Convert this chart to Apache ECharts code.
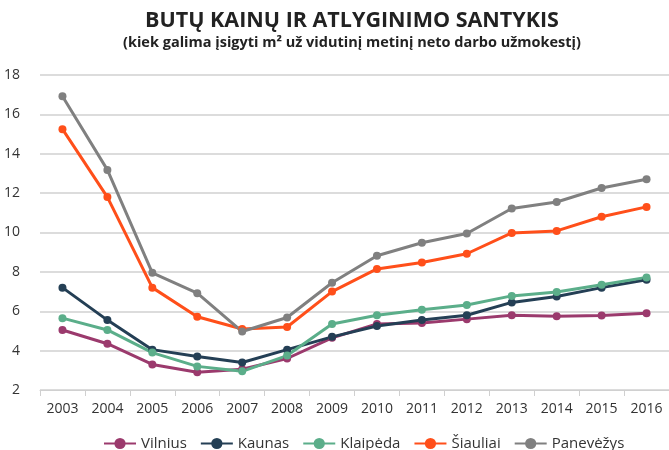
<!DOCTYPE html>
<html>
<head>
<meta charset="utf-8">
<script src="https://cdn.jsdelivr.net/npm/echarts@6/dist/echarts.min.js"></script>
<style>
    html, body { margin: 0; padding: 0; background: #fff; }
    #chart { width: 669px; height: 450px; }
</style>
</head>
<body>
<div id="chart"></div>
<script>
const years = ['2003', '2004', '2005', '2006', '2007', '2008', '2009', '2010', '2011', '2012', '2013', '2014', '2015', '2016'];
const vilnius = [5.05, 4.35, 3.3, 2.9, 3.05, 3.6, 4.65, 5.35, 5.4, 5.6, 5.8, 5.75, 5.78, 5.9];
const kaunas = [7.2, 5.55, 4.05, 3.7, 3.4, 4.05, 4.7, 5.25, 5.55, 5.8, 6.45, 6.75, 7.2, 7.6];
const klaipeda = [5.65, 5.05, 3.9, 3.2, 2.95, 3.75, 5.35, 5.8, 6.08, 6.32, 6.78, 6.98, 7.35, 7.72];
const siauliai = [15.25, 11.8, 7.2, 5.72, 5.1, 5.2, 7.0, 8.15, 8.48, 8.92, 9.98, 10.08, 10.8, 11.3];
const panevezys = [16.92, 13.18, 7.95, 6.92, 4.97, 5.68, 7.45, 8.82, 9.48, 9.95, 11.22, 11.55, 12.26, 12.7];
const yTicks = { min: 2, max: 18, interval: 2 };

const chart = echarts.init(document.getElementById('chart'));
const font = '"Open Sans", sans-serif';

function line(name, data, color) {
    return {
        name: name,
        type: 'line',
        data: data,
        symbol: 'circle',
        symbolSize: 8,
        color: color,
        lineStyle: { width: 3, color: color },
        itemStyle: { color: color },
    };
}

chart.setOption({
    animation: false,
    title: {
        text: 'BUTŲ KAINŲ IR ATLYGINIMO SANTYKIS',
        subtext: '(kiek galima įsigyti m² už vidutinį metinį neto darbo užmokestį)',
        left: 347,
        textAlign: 'center',
        top: 5,
        itemGap: 3,
        textStyle: { fontFamily: font, fontWeight: 'bold', fontSize: 21.5, color: '#222' },
        subtextStyle: { fontFamily: font, fontWeight: 'bold', fontSize: 14.5, color: '#222' },
    },
    legend: {
        top: 431,
        left: 98,
        itemWidth: 32,
        itemHeight: 14,
        itemGap: 13,
        textStyle: { fontFamily: font, fontSize: 15, color: '#333' },
        data: ['Vilnius', 'Kaunas', 'Klaipėda', 'Šiauliai', 'Panevėžys'],
    },
    grid: { left: 40, right: -8, top: 75, bottom: 60, containLabel: false },
    xAxis: {
        type: 'category',
        data: years,
        boundaryGap: true,
        axisLine: { lineStyle: { color: '#d0d0d0', width: 1 } },
        axisTick: { show: true, length: 6, lineStyle: { color: '#d0d0d0' } },
        axisLabel: { fontFamily: font, fontSize: 14, color: '#333', margin: 12 },
    },
    yAxis: {
        type: 'value',
        min: yTicks.min,
        max: yTicks.max,
        interval: yTicks.interval,
        axisLine: { show: false },
        axisTick: { show: false },
        splitLine: { lineStyle: { color: '#d0d0d0', width: 1.5 } },
        axisLabel: { fontFamily: font, fontSize: 14, color: '#333', margin: 20 },
    },
    series: [
        line('Vilnius', vilnius, '#9b3a6d'),
        line('Kaunas', kaunas, '#243f55'),
        line('Klaipėda', klaipeda, '#5bae8a'),
        line('Šiauliai', siauliai, '#ff4f1a'),
        line('Panevėžys', panevezys, '#808080'),
    ],
});
</script>
</body>
</html>
